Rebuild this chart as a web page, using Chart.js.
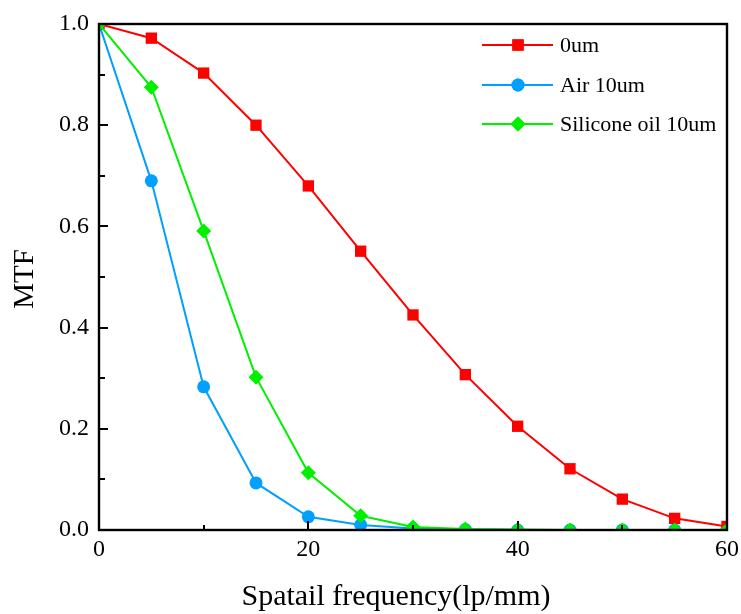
<!DOCTYPE html>
<html><head><meta charset="utf-8">
<script src="https://cdn.jsdelivr.net/npm/chart.js@4"></script>
<style>html,body{margin:0;padding:0;background:#fff}</style>
</head><body>
<canvas id="c" width="741" height="614"></canvas>
<script>
const freq      = [0, 5, 10, 15, 20, 25, 30, 35, 40, 45, 50, 55, 60];
const mtf0um    = [1.0, 0.972, 0.903, 0.80, 0.68, 0.551, 0.425, 0.307, 0.205, 0.121, 0.061, 0.023, 0.007];
const mtfAir    = [1.0, 0.69, 0.283, 0.093, 0.026, 0.01, 0.003, 0.001, 0.0, 0.0, 0.0, 0.0, 0.0];
const mtfOil    = [1.0, 0.875, 0.591, 0.302, 0.113, 0.028, 0.006, 0.002, 0.001, 0.0, 0.0, 0.0, 0.0];
const seriesNames = ['0um', 'Air 10um', 'Silicone oil 10um'];
const xMinorTicks = [0, 10, 20, 30, 40, 50, 60];
const yMinorTicks = [0, 0.1, 0.2, 0.3, 0.4, 0.5, 0.6, 0.7, 0.8, 0.9, 1.0];
const xTitle = 'Spatail frequency(lp/mm)';
const yTitle = 'MTF';

const RED = '#ff0000', BLUE = '#00a0ff', GREEN = '#00f000';
const FONT = '"Liberation Serif", "DejaVu Serif", serif';

function pts(ys){ return freq.map((x,i)=>({x, y: ys[i]})); }

const styles = [
  {color: RED, pointStyle: 'rect', radius: 8, order: 1},
  {color: BLUE, pointStyle: 'circle', radius: 6.5, order: 2},
  {color: GREEN, pointStyle: 'rectRot', radius: 7.5, order: 0}
];
const seriesData = [mtf0um, mtfAir, mtfOil];

const datasets = seriesData.map((d,i)=>({
  label: seriesNames[i],
  data: pts(d),
  borderColor: styles[i].color,
  backgroundColor: styles[i].color,
  borderWidth: 2,
  pointStyle: styles[i].pointStyle,
  pointRadius: styles[i].radius,
  pointBorderWidth: 0,
  pointHoverRadius: styles[i].radius,
  order: styles[i].order,
  clip: 0,
  tension: 0
}));

const decor = {
  id: 'decor',
  afterDraw(chart){
    const ctx = chart.ctx;
    const {left, right, top, bottom} = chart.chartArea;
    const xs = chart.scales.x, ys = chart.scales.y;
    ctx.save();
    ctx.strokeStyle = '#000';
    ctx.lineWidth = 2;
    xMinorTicks.forEach(v=>{
      const px = Math.round(xs.getPixelForValue(v));
      const len = (v % 20 === 0) ? 9 : 5;
      ctx.beginPath(); ctx.moveTo(px, bottom); ctx.lineTo(px, bottom - len); ctx.stroke();
    });
    yMinorTicks.forEach((v,i)=>{
      const py = Math.round(ys.getPixelForValue(v));
      const len = (i % 2 === 0) ? 9 : 6;
      ctx.beginPath(); ctx.moveTo(left, py); ctx.lineTo(left + len, py); ctx.stroke();
    });
    ctx.lineWidth = 2.4;
    ctx.strokeRect(left, top, right - left, bottom - top);
    // legend
    const lx0 = 482, lx1 = 553, lm = 518, tx = 560;
    const rows = [45, 85, 124];
    ctx.font = '22px ' + FONT;
    ctx.textBaseline = 'middle';
    ctx.textAlign = 'left';
    datasets.forEach((ds,i)=>{
      const y = rows[i];
      ctx.strokeStyle = ds.borderColor;
      ctx.lineWidth = 2;
      ctx.beginPath(); ctx.moveTo(lx0, y); ctx.lineTo(lx1, y); ctx.stroke();
      ctx.fillStyle = ds.backgroundColor;
      Chart.helpers.drawPoint(ctx, {pointStyle: ds.pointStyle, radius: ds.pointRadius, borderWidth: 0}, lm, y);
      ctx.fill();
      ctx.fillStyle = '#000';
      ctx.fillText(ds.label, tx, y + 1);
    });
    // axis titles
    ctx.fillStyle = '#000';
    ctx.font = '30px ' + FONT;
    ctx.textAlign = 'center';
    ctx.textBaseline = 'alphabetic';
    ctx.fillText(xTitle, 396, 605);
    ctx.save();
    ctx.translate(33, 279);
    ctx.rotate(-Math.PI/2);
    ctx.font = '29px ' + FONT;
    ctx.fillText(yTitle, 0, 0);
    ctx.restore();
    ctx.restore();
  }
};

new Chart(document.getElementById('c'), {
  type: 'line',
  data: { datasets },
  options: {
    responsive: false,
    animation: false,
    devicePixelRatio: 1,
    layout: { padding: { top: 24, right: 14, left: 0, bottom: 0 } },
    plugins: { legend: { display: false }, tooltip: { enabled: false } },
    scales: {
      x: {
        type: 'linear', min: 0, max: 60,
        grid: { display: false, drawTicks: false },
        border: { display: false },
        ticks: { stepSize: 20, color: '#000', padding: 5, font: { family: FONT, size: 24 }, maxRotation: 0 },
        afterFit(s){ s.height = 84; s.paddingRight = 0; s.paddingLeft = 0; }
      },
      y: {
        min: 0, max: 1,
        grid: { display: false, drawTicks: false },
        border: { display: false },
        ticks: { stepSize: 0.2, color: '#000', padding: 10, font: { family: FONT, size: 24 },
          callback: v => Number(v).toFixed(1) },
        afterFit(s){ s.width = 99; s.paddingTop = 0; s.paddingBottom = 0; }
      }
    }
  },
  plugins: [decor]
});
</script>
</body></html>
